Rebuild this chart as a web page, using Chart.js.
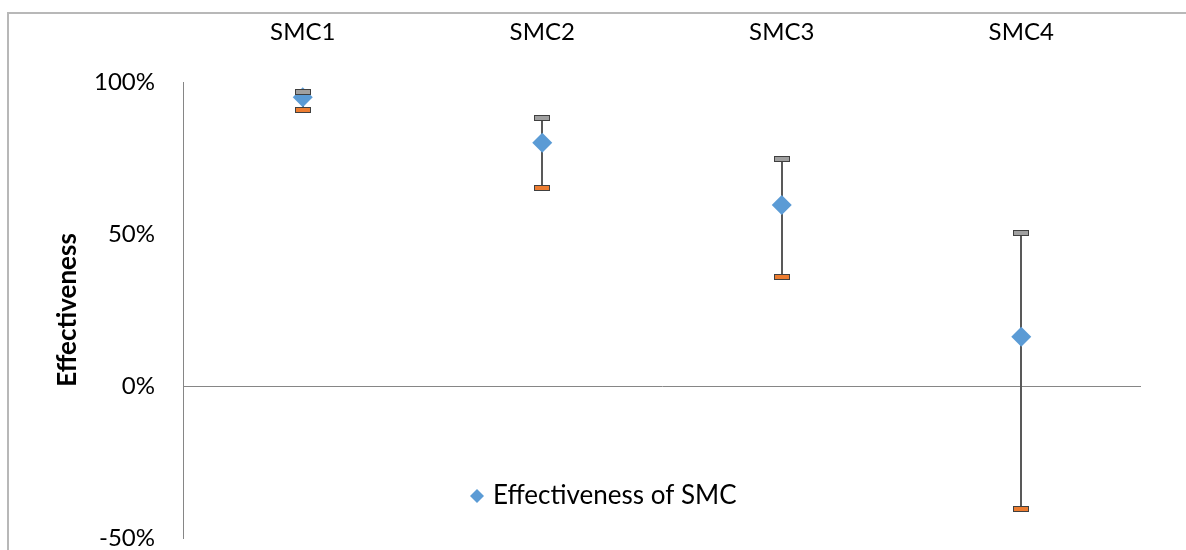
<!DOCTYPE html>
<html>
<head>
<meta charset="utf-8">
<style>
  html, body { margin: 0; padding: 0; background: #fff; overflow: hidden; }
  #frame { position: absolute; left: 7px; top: 12px; width: 1400px; height: 800px; border: 2px solid #b8b8b8; }
  #wrap { position: absolute; left: 0; top: 0; width: 1186px; height: 550px; }
</style>
<script src="https://cdn.jsdelivr.net/npm/chart.js"></script>
</head>
<body>
<div id="frame"></div>
<div id="wrap"><canvas id="chart"></canvas></div>
<script>
const labels = ["SMC1", "SMC2", "SMC3", "SMC4"];
const effectiveness = [0.95, 0.80, 0.595, 0.162];
const upperBound = [0.967, 0.882, 0.747, 0.502];
const lowerBound = [0.908, 0.651, 0.360, -0.405];
const yTicks = [-0.5, 0, 0.5, 1.0];

const FONT = "Lato";

// error bars drawn through the chart's own scales
const errorBars = {
  id: "errorBars",
  beforeDatasetsDraw(chart) {
    const { ctx, scales: { x, y } } = chart;
    ctx.save();
    ctx.strokeStyle = "#595959";
    ctx.lineWidth = 2;
    labels.forEach((lab, i) => {
      const px = Math.round(x.getPixelForValue(i));
      ctx.beginPath();
      ctx.moveTo(px, y.getPixelForValue(upperBound[i]));
      ctx.lineTo(px, y.getPixelForValue(lowerBound[i]));
      ctx.stroke();
    });
    ctx.restore();
  },
  afterDatasetsDraw(chart) {
    const { ctx, scales: { x, y } } = chart;
    ctx.save();
    ctx.lineWidth = 1;
    ctx.strokeStyle = "#404040";
    labels.forEach((lab, i) => {
      const px = Math.round(x.getPixelForValue(i));
      const top = Math.round(y.getPixelForValue(upperBound[i]));
      const bot = Math.round(y.getPixelForValue(lowerBound[i]));
      ctx.fillStyle = "#a0a0a0";
      ctx.fillRect(px - 7, top - 2, 14, 4);
      ctx.strokeRect(px - 7.5, top - 2.5, 15, 5);
      ctx.fillStyle = "#ed7d31";
      ctx.fillRect(px - 7, bot - 2, 14, 4);
      ctx.strokeRect(px - 7.5, bot - 2.5, 15, 5);
    });
    ctx.restore();
  }
};

// legend placed inside the plot, below the zero line
const innerLegend = {
  id: "innerLegend",
  afterDraw(chart) {
    const { ctx } = chart;
    const ds = chart.data.datasets[0];
    const cx = 477, cy = 496, r = 7;
    ctx.save();
    ctx.fillStyle = ds.backgroundColor;
    ctx.beginPath();
    ctx.moveTo(cx, cy - r);
    ctx.lineTo(cx + r, cy);
    ctx.lineTo(cx, cy + r);
    ctx.lineTo(cx - r, cy);
    ctx.closePath();
    ctx.fill();
    ctx.fillStyle = "#000";
    ctx.font = "26px " + FONT;
    ctx.textBaseline = "middle";
    ctx.fillText(ds.label, 493, cy);
    ctx.restore();
  }
};

new Chart(document.getElementById("chart"), {
  type: "line",
  data: {
    labels: labels,
    datasets: [{
      label: "Effectiveness of SMC",
      data: effectiveness,
      showLine: false,
      pointStyle: "rectRot",
      pointRadius: 10,
      pointHoverRadius: 10,
      backgroundColor: "#5b9bd5",
      borderColor: "#5b9bd5",
      borderWidth: 0
    }]
  },
  options: {
    responsive: true,
    maintainAspectRatio: false,
    animation: false,
    layout: { padding: { left: 52, right: 45, top: 16, bottom: 12 } },
    plugins: {
      legend: { display: false },
      tooltip: { enabled: false }
    },
    scales: {
      x: {
        position: "top",
        offset: true,
        grid: { display: false, drawTicks: false },
        border: { display: false },
        ticks: { color: "#000", font: { family: FONT, size: 24 }, padding: 35 },
        afterFit(scale) { scale.height = 66; }
      },
      y: {
        min: -0.5,
        max: 1.0,
        afterBuildTicks(scale) { scale.ticks = yTicks.map(v => ({ value: v })); },
        grid: {
          drawTicks: false,
          color: ctx => (ctx.tick && ctx.tick.value === 0 ? "#868686" : "rgba(0,0,0,0)"),
          lineWidth: 1
        },
        border: { display: true, color: "#868686", width: 1 },
        ticks: {
          color: "#000",
          font: { family: FONT, size: 24 },
          padding: 28,
          callback: v => Math.round(v * 100) + "%"
        },
        title: {
          display: true,
          text: "Effectiveness",
          color: "#000",
          font: { family: FONT, size: 26, weight: "bold" },
          padding: { top: 0, bottom: 0 }
        },
        afterFit(scale) {
          scale.width = 131;
          scale.paddingTop = 0;
          scale.paddingBottom = 0;
        }
      }
    }
  },
  plugins: [errorBars, innerLegend]
});
</script>
</body>
</html>
